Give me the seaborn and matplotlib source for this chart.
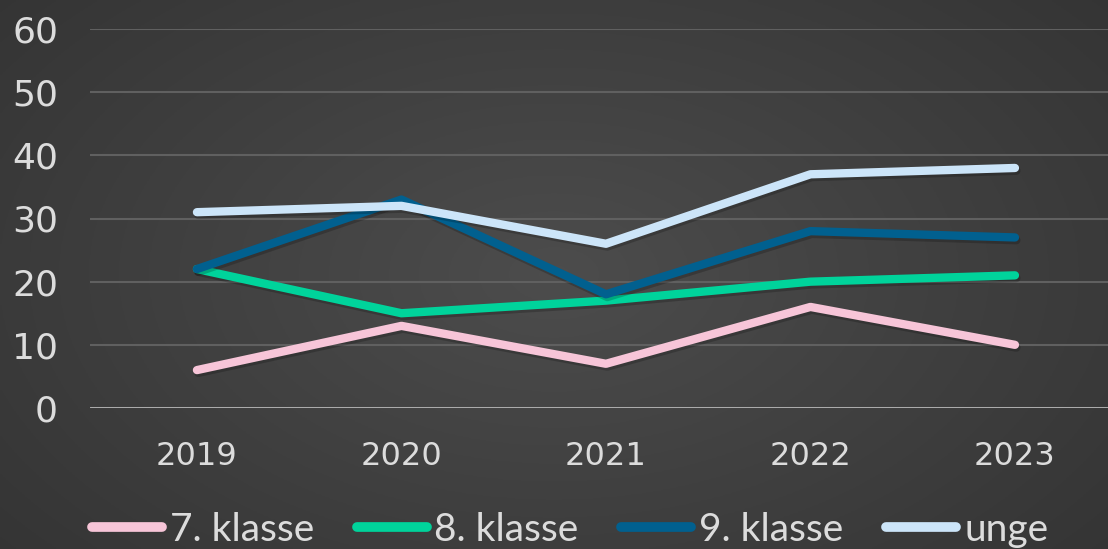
import numpy as np
import pandas as pd
import seaborn as sns
import matplotlib.pyplot as plt
import matplotlib.patheffects as pe

years = ['2019', '2020', '2021', '2022', '2023']
klasse7 = [6, 13, 7, 16, 10]
klasse8 = [22, 15, 17, 20, 21]
klasse9 = [22, 33, 18, 28, 27]
unge = [31, 32, 26, 37, 38]
series_names = ['7. klasse', '8. klasse', '9. klasse', 'unge']
colors = ['#f7c5d8', '#00d39b', '#01608f', '#cce5f9']

df = pd.DataFrame({
    'year': years * 4,
    'value': klasse7 + klasse8 + klasse9 + unge,
    'serie': [s for s in series_names for _ in years],
})

sns.set_style('dark')
plt.rcParams['font.family'] = ['DejaVu Sans']

fig = plt.figure(figsize=(11.08, 5.49), dpi=100)

# dark gradient background
bg = fig.add_axes([0, 0, 1, 1], zorder=-10)
yy, xx = np.mgrid[-1:1:200j, -1:1:400j]
r = np.sqrt((xx * 0.85) ** 2 + (yy * 0.7) ** 2)
shade = np.clip(0.30 - 0.085 * r, 0.19, 0.31)
bg.imshow(np.dstack([shade, shade, shade]), aspect='auto', extent=[0, 1, 0, 1])
bg.set_axis_off()

ax = fig.add_axes([90 / 1108, 1 - 408 / 549, 1018 / 1108, 379 / 549])
ax.patch.set_alpha(0)

sns.lineplot(data=df, x='year', y='value', hue='serie', palette=colors,
             linewidth=6, sort=False, ax=ax, legend=False,
             solid_capstyle='round',
             path_effects=[pe.SimpleLineShadow(offset=(1, -2), alpha=0.2), pe.Normal()])

ax.set_xlim(-0.523, 4.455)
ax.set_ylim(0, 60)
ax.set_yticks(range(0, 61, 10))
ax.grid(axis='y', color='#606060', linewidth=1.5)
ax.grid(axis='x', visible=False)
for s in ax.spines.values():
    s.set_visible(False)
ax.axhline(0, color='#b5b5b5', linewidth=2, zorder=1)
ax.set_xlabel('')
ax.set_ylabel('')
ax.tick_params(axis='y', labelsize=26, colors='#dcdcdc', pad=23, length=0)
ax.tick_params(axis='x', labelsize=23, colors='#dcdcdc', pad=24, length=0)

handles = [plt.Line2D([], [], color=c, linewidth=7, solid_capstyle='round') for c in colors]
fig.legend(handles, series_names, loc='lower center', bbox_to_anchor=(570 / 1108, -0.062),
           ncol=4, frameon=False, handlelength=1.8, handletextpad=0.2, columnspacing=1.1,
           prop={'family': 'Lato', 'size': 28}, labelcolor='#dcdcdc')

fig.savefig('out.png', dpi=100)
